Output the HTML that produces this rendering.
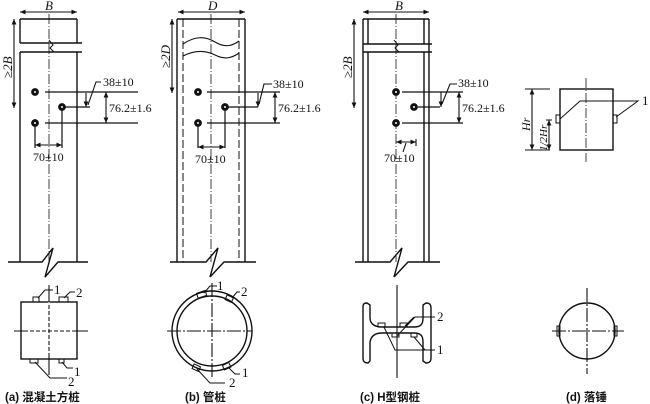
<!DOCTYPE html>
<html><head><meta charset="utf-8"><style>
html,body{margin:0;padding:0;background:#fff;width:650px;height:404px;overflow:hidden}
svg text{font-family:"Liberation Serif","Noto Serif CJK SC",serif;fill:#111}
.cn{font-family:"Liberation Sans","Noto Sans CJK SC",sans-serif;font-weight:bold}
</style></head><body>
<svg width="650" height="404" viewBox="0 0 650 404" xmlns="http://www.w3.org/2000/svg" fill="none" stroke="#111" stroke-width="1.4">
<defs><marker id="a" markerWidth="6" markerHeight="6" refX="5" refY="3" orient="auto-start-reverse"><path d="M0,0.8 L5,3 L0,5.2" fill="#111" stroke="none"/></marker></defs>

<!-- (a) -->
<line x1="20" y1="12" x2="77" y2="12" marker-start="url(#a)" marker-end="url(#a)" stroke-width="1.1"/>
<text x="45" y="10" font-size="13" font-style="italic" stroke="none">B</text>
<path d="M20,19 H77 M20,19 V43 M77,19 V43 M20,43 H82 M20,52 H82 M20,52 V262 M77,52 V262"/>
<path d="M49,40 L53,45 L50,48 L54,52" stroke-width="1"/>
<line x1="14" y1="19" x2="14" y2="108" marker-start="url(#a)" marker-end="url(#a)" stroke-width="1.1"/>
<text transform="translate(12,78) rotate(-90)" font-size="13" font-style="italic" stroke="none">≥2B</text>
<line x1="49" y1="14" x2="49" y2="262" stroke-dasharray="10,2,1,2" stroke-width="0.8"/>
<path d="M8,262 H42 L53,248 L45,277 L58,262 H88"/>
<path d="M45,92 H138 M65,107 H90 M45,123 H138 M35,126 V148 M62,110 V148" stroke-width="1.2"/>
<line x1="35" y1="145" x2="62" y2="145" marker-start="url(#a)" marker-end="url(#a)" stroke-width="1.1"/>
<text x="33" y="161" font-size="12" stroke="none">70±10</text>
<line x1="106" y1="92" x2="106" y2="123" marker-start="url(#a)" marker-end="url(#a)" stroke-width="1.1"/>
<text x="109" y="112" font-size="12" stroke="none">76.2±1.6</text>
<line x1="86" y1="93" x2="86" y2="107" marker-end="url(#a)" stroke-width="1.1"/>
<path d="M88,105 L96,82 H101" stroke-width="1.1"/>
<text x="103" y="86" font-size="12" stroke="none">38±10</text>
<g fill="#111"><circle cx="35" cy="92" r="3.2"/><circle cx="62" cy="107" r="3.2"/><circle cx="35" cy="123" r="3.2"/></g>
<g fill="#fff" stroke="none"><circle cx="35" cy="92" r="1"/><circle cx="62" cy="107" r="1"/><circle cx="35" cy="123" r="1"/></g>

<!-- (b) -->
<line x1="178" y1="12" x2="245" y2="12" marker-start="url(#a)" marker-end="url(#a)" stroke-width="1.1"/>
<text x="208" y="10" font-size="13" font-style="italic" stroke="none">D</text>
<path d="M177,19 H245 M177,19 V262 M245,19 V262"/>
<path d="M183,19 V262 M239,19 V262" stroke-dasharray="8,3" stroke-width="1"/>
<path d="M183,44 C195,36 205,36 215,42 C225,48 232,46 239,41 M183,56 C195,50 205,50 215,55 C225,60 232,58 239,53" stroke-width="1.1"/>
<line x1="172" y1="19" x2="172" y2="93" marker-start="url(#a)" marker-end="url(#a)" stroke-width="1.1"/>
<text transform="translate(170,68) rotate(-90)" font-size="13" font-style="italic" stroke="none">≥2D</text>
<line x1="211" y1="14" x2="211" y2="262" stroke-dasharray="10,2,1,2" stroke-width="0.8"/>
<path d="M170,262 H206 L218,248 L210,277 L224,262 H256"/>
<path d="M207,92 H280 M228,107 H258 M207,123 H280 M198,126 V148 M225,110 V148" stroke-width="1.2"/>
<line x1="198" y1="147" x2="225" y2="147" marker-start="url(#a)" marker-end="url(#a)" stroke-width="1.1"/>
<text x="195" y="163" font-size="12" stroke="none">70±10</text>
<line x1="275" y1="92" x2="275" y2="123" marker-start="url(#a)" marker-end="url(#a)" stroke-width="1.1"/>
<text x="278" y="112" font-size="12" stroke="none">76.2±1.6</text>
<line x1="258" y1="93" x2="258" y2="107" marker-end="url(#a)" stroke-width="1.1"/>
<path d="M259,104 L264,84 H272" stroke-width="1.1"/>
<text x="273" y="88" font-size="12" stroke="none">38±10</text>
<g fill="#111"><circle cx="198" cy="92" r="3.2"/><circle cx="225" cy="107" r="3.2"/><circle cx="198" cy="123" r="3.2"/></g>
<g fill="#fff" stroke="none"><circle cx="198" cy="92" r="1"/><circle cx="225" cy="107" r="1"/><circle cx="198" cy="123" r="1"/></g>

<!-- (c) -->
<line x1="363" y1="12" x2="429" y2="12" marker-start="url(#a)" marker-end="url(#a)" stroke-width="1.1"/>
<text x="395" y="10" font-size="13" font-style="italic" stroke="none">B</text>
<path d="M363,19 H429 M363,19 V262 M429,19 V262 M368,19 V44 M424,19 V44 M368,52 V262 M424,52 V262 M363,44 H432 M363,52 H432"/>
<path d="M394,40 L398,45 L395,48 L399,52" stroke-width="1"/>
<line x1="354" y1="19" x2="354" y2="108" marker-start="url(#a)" marker-end="url(#a)" stroke-width="1.1"/>
<text transform="translate(352,78) rotate(-90)" font-size="13" font-style="italic" stroke="none">≥2B</text>
<line x1="396" y1="14" x2="396" y2="262" stroke-dasharray="10,2,1,2" stroke-width="0.8"/>
<path d="M355,262 H390 L402,248 L394,277 L408,262 H440"/>
<path d="M402,92 H463 M418,107 H440 M402,123 H463" stroke-width="1.2"/>
<line x1="441" y1="92" x2="441" y2="107" marker-end="url(#a)" stroke-width="1.1"/>
<path d="M442,104 L450,84 H457" stroke-width="1.1"/>
<text x="458" y="87" font-size="12" stroke="none">38±10</text>
<line x1="459" y1="92" x2="459" y2="123" marker-start="url(#a)" marker-end="url(#a)" stroke-width="1.1"/>
<text x="462" y="112" font-size="12" stroke="none">76.2±1.6</text>
<line x1="396" y1="142" x2="416" y2="142" marker-start="url(#a)" marker-end="url(#a)" stroke-width="1.1"/>
<path d="M416,139 V146 M406,143 L403,152" stroke-width="1.1"/>
<text x="384" y="162" font-size="12" stroke="none">70±10</text>
<g fill="#111"><circle cx="396" cy="92" r="3.2"/><circle cx="414" cy="107" r="3.2"/><circle cx="396" cy="123" r="3.2"/></g>
<g fill="#fff" stroke="none"><circle cx="396" cy="92" r="1"/><circle cx="414" cy="107" r="1"/><circle cx="396" cy="123" r="1"/></g>

<!-- (d) -->
<rect x="560" y="89" width="53" height="61"/>
<line x1="586" y1="78" x2="586" y2="162" stroke-dasharray="10,2,1,2" stroke-width="0.8"/>
<rect x="556" y="115" width="4" height="8" stroke-width="1"/>
<rect x="613" y="115" width="4" height="8" stroke-width="1"/>
<path d="M560,119 L580,101 H638 L616,117" stroke-width="1"/>
<text x="642" y="105" font-size="13" stroke="none">1</text>
<path d="M525,89 H550 M525,150 H550 M546,120 H552" stroke-width="1.1"/>
<line x1="532" y1="89" x2="532" y2="150" marker-start="url(#a)" marker-end="url(#a)" stroke-width="1.1"/>
<line x1="549" y1="120" x2="549" y2="150" marker-start="url(#a)" marker-end="url(#a)" stroke-width="1.1"/>
<text transform="translate(530,131) rotate(-90)" font-size="12" font-style="italic" stroke="none">Hr</text>
<text transform="translate(547,151) rotate(-90)" font-size="11" font-style="italic" stroke="none">1/2Hr</text>

<!-- bottom (a) -->
<rect x="21" y="302" width="56" height="57"/>
<path d="M14,331 H88 M49,285 V375" stroke-width="1.1"/>
<path d="M28,331 H72 M49,302 V355" stroke="#fff" stroke-width="1.2"/>
<path d="M30,331 H70 M49,305 V355" stroke-dasharray="4,2" stroke-width="1"/>
<rect x="33" y="297" width="6" height="5" stroke-width="1"/>
<rect x="59" y="297" width="9" height="5" stroke-width="1"/>
<rect x="30" y="359" width="8" height="4" stroke-width="1"/>
<rect x="59" y="359" width="5" height="4" stroke-width="1"/>
<path d="M38,298 L45,290 H53 M64,298 L70,292 H75 M62,362 L67,368 H73 M35,362 L50,378 H67" stroke-width="1"/>
<text x="54" y="294" font-size="13" stroke="none">1</text>
<text x="76" y="297" font-size="13" stroke="none">2</text>
<text x="74" y="376" font-size="13" stroke="none">1</text>
<text x="68" y="386" font-size="13" stroke="none">2</text>
<text x="5" y="401" font-size="11.5" class="cn" stroke="none">(a) 混凝土方桩</text>

<!-- bottom (b) -->
<circle cx="212" cy="331" r="40"/>
<circle cx="212" cy="331" r="35"/>
<path d="M167,331 H252 M212,283 V378" stroke-width="1.1" stroke-dasharray="14,2,2,2"/>
<rect x="197" y="292" width="9" height="5" transform="rotate(-18 201 294)" stroke-width="1"/>
<rect x="226" y="296" width="7" height="5" transform="rotate(25 229 298)" stroke-width="1"/>
<rect x="193" y="365" width="7" height="5" transform="rotate(25 196 367)" stroke-width="1"/>
<rect x="223" y="364" width="7" height="5" transform="rotate(-25 226 366)" stroke-width="1"/>
<path d="M204,293 L210,286 H217 M232,298 L237,292 H240 M229,368 L235,374 H240 M197,369 L210,383 H225" stroke-width="1"/>
<text x="217" y="290" font-size="13" stroke="none">1</text>
<text x="241" y="296" font-size="13" stroke="none">2</text>
<text x="242" y="377" font-size="13" stroke="none">1</text>
<text x="229" y="387" font-size="13" stroke="none">2</text>
<text x="185" y="401" font-size="11.5" class="cn" stroke="none">(b) 管桩</text>

<!-- bottom (c) -->
<path d="M367,303 C363,303 363,305 363,308 V358 C363,361 364,363 368,363 L370,361 V342 C371,336 375,333 382,333 H414 C421,333 423,336 423,342 V361 L426,363 C430,363 431,361 431,358 V308 C431,305 430,303 426,303 L423,305 V318 C423,324 421,327 414,327 H382 C375,327 370,324 370,318 V305 Z"/>
<path d="M397,285 V378" stroke-width="1.1"/>
<rect x="378" y="323" width="7" height="4" stroke-width="1"/>
<rect x="400" y="323" width="7" height="4" stroke-width="1"/>
<rect x="392" y="333" width="7" height="4" stroke-width="1"/>
<rect x="411" y="333" width="6" height="4" stroke-width="1"/>
<path d="M397,336 L415,317 H435 M405,326 L414,317 M384,327 L395,350 H435 M414,337 L425,350" stroke-width="1"/>
<text x="437" y="321" font-size="13" stroke="none">2</text>
<text x="437" y="354" font-size="13" stroke="none">1</text>
<text x="360" y="401" font-size="11.5" class="cn" stroke="none">(c) H型钢桩</text>

<!-- bottom (d) -->
<circle cx="587" cy="331" r="28"/>
<path d="M552,331 H624 M587,288 V374" stroke-width="1.1" stroke-dasharray="14,2,2,2"/>
<rect x="557" y="326" width="3" height="10" stroke-width="1"/>
<rect x="614" y="326" width="3" height="10" stroke-width="1"/>
<text x="566" y="401" font-size="11.5" class="cn" stroke="none">(d) 落锤</text>
</svg>
</body></html>
